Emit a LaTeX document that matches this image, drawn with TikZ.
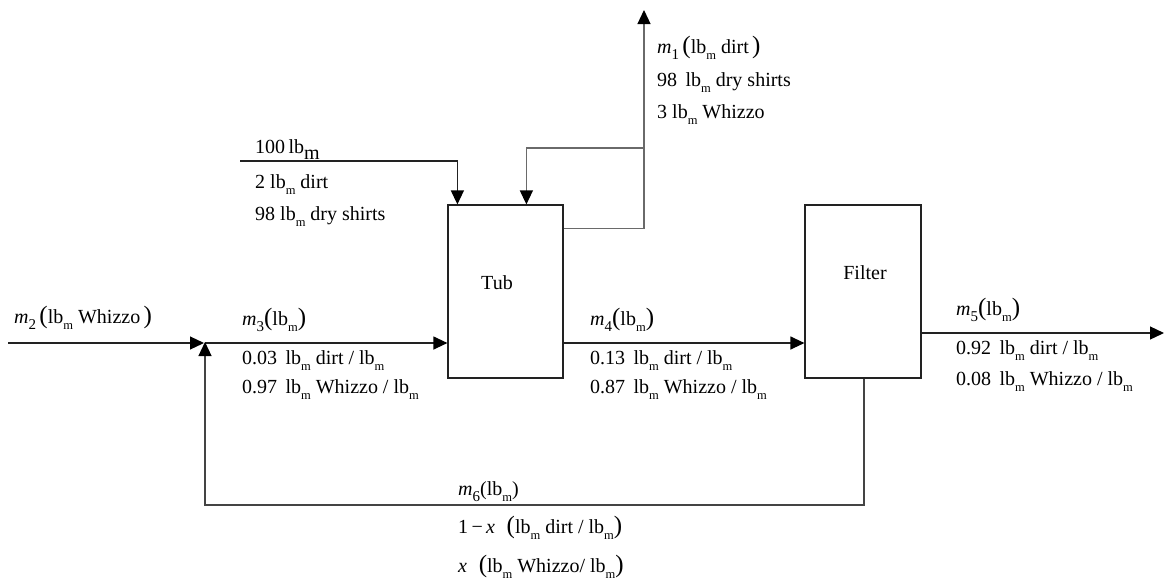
\documentclass[tikz,border=0pt]{standalone}
\usepackage{fontspec}
\setmainfont{Liberation Serif}
\usetikzlibrary{arrows.meta}

% units and stream notation
\newcommand{\lbm}{lb\raisebox{-0.32em}{\fontsize{12.5}{12.5}\selectfont m}}
\newcommand{\mflow}[1]{\textit{m}\raisebox{-0.3em}{\fontsize{15}{15}\selectfont #1}}
\newcommand{\lpar}{{\fontsize{25}{25}\selectfont(}}
\newcommand{\rpar}{{\fontsize{25}{25}\selectfont)}}

\definecolor{linedark}{HTML}{222222}
\definecolor{linegray}{HTML}{6A6A6A}
\definecolor{linemid}{HTML}{444444}

\tikzset{
  vessel/.style={draw=linedark, line width=1.2pt, fill=white, inner sep=0pt},
  stream/.style={draw=linedark, line width=1.2pt,
    -{Triangle[length=14pt,width=13pt,color=black]}},
  vent/.style={stream, draw=linegray},
  recycle/.style={stream, draw=linemid},
  txt/.style={anchor=base west, inner sep=0pt, text=black,
    font=\fontsize{20}{23}\selectfont},
  unitname/.style={anchor=center, inner sep=0pt, text=black,
    font=\fontsize{20}{23}\selectfont}
}

\begin{document}
\begin{tikzpicture}[x=1pt, y=-1pt]
\useasboundingbox (0,0) rectangle (1164,579);

% process units
\node[vessel, minimum width=115pt, minimum height=173pt] (tub) at (505.5,291.5) {};
\node[vessel, minimum width=116pt, minimum height=173pt] (filter) at (863,291.5) {};
\node[unitname] (tubname) at (497,283) {Tub};
\node[unitname] (filtername) at (865,273) {Filter};

% junction and end points
\coordinate (feedstart) at (240,161);
\coordinate (venttop) at (644,10);
\coordinate (split) at (644,148);
\coordinate (m2start) at (8,343);
\coordinate (mix) at (205,343);
\coordinate (m5end) at (1164,333);
\coordinate (reccorner) at (864,505);

% streams
\draw[stream] (feedstart) -| ([xshift=10pt]tub.north west);
\draw[vent] ([yshift=-24pt]tub.north east) -| (venttop);
\draw[vent] (split) -| ([xshift=79pt]tub.north west);
\draw[stream, shorten >=1pt] (m2start) -- (mix);
\draw[stream] (mix) -- (tub.west |- mix);
\draw[stream] (tub.east |- mix) -- (filter.west |- mix);
\draw[stream] (filter.east |- m5end) -- (m5end);
\draw[recycle, shorten >=-1pt] (filter.south -| reccorner) |- (mix |- reccorner) -- (mix);

% stream 1
\node[txt] (m1a) at (657,53) {\mflow{1}\,\lpar\lbm{} dirt\,\rpar};
\node[txt] (m1b) at (657,86) {98\, \lbm{} dry shirts};
\node[txt] (m1c) at (657,118) {3 \lbm{} Whizzo};

% feed
\node[txt] (fa) at (255,153) {100\,lb\raisebox{-0.3em}{m}};
\node[txt] (fb) at (255,188) {2 \lbm{} dirt};
\node[txt] (fc) at (255,220) {98 \lbm{} dry shirts};

% stream 2
\node[txt] (m2a) at (14,323) {\mflow{2}\,\lpar\lbm{} Whizzo\,\rpar};

% stream 3
\node[txt] (m3a) at (242,325) {\mflow{3}\lpar\lbm\rpar};
\node[txt] (m3b) at (242,364) {0.03\, \lbm{} dirt / \lbm};
\node[txt] (m3c) at (242,393) {0.97\, \lbm{} Whizzo / \lbm};

% stream 4
\node[txt] (m4a) at (590,325) {\mflow{4}\lpar\lbm\rpar};
\node[txt] (m4b) at (590,364) {0.13\, \lbm{} dirt / \lbm};
\node[txt] (m4c) at (590,393) {0.87\, \lbm{} Whizzo / \lbm};

% stream 5
\node[txt] (m5a) at (956,315) {\mflow{5}\lpar\lbm\rpar};
\node[txt] (m5b) at (956,354) {0.92\, \lbm{} dirt / \lbm};
\node[txt] (m5c) at (956,385) {0.08\, \lbm{} Whizzo / \lbm};

% stream 6
\node[txt] (m6a) at (458,495) {\mflow{6}(\lbm)};
\node[txt] (m6b) at (458,533) {1\,−\,\textit{x}\,\, \lpar\lbm{} dirt / \lbm\rpar};
\node[txt] (m6c) at (458,572) {\textit{x}\,\, \lpar\lbm{} Whizzo/ \lbm\rpar};
\end{tikzpicture}
\end{document}
